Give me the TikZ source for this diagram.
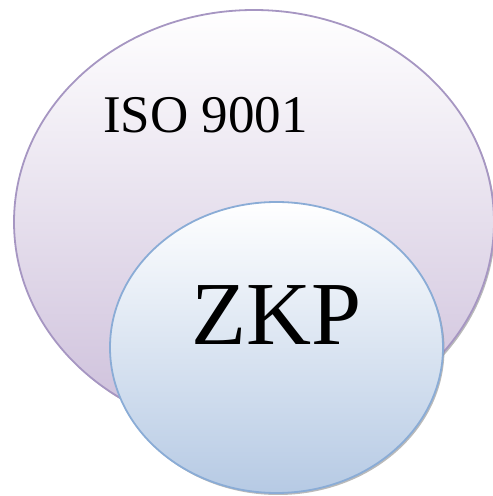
\documentclass[tikz,border=0pt]{standalone}
\usepackage{fontspec}
\setmainfont{Liberation Serif}
\usepackage{tikz}
\usetikzlibrary{shapes.geometric,shadows}
\definecolor{isoline}{RGB}{166,150,194}
\definecolor{isobottom}{RGB}{204,190,218}
\definecolor{zkpline}{RGB}{138,172,214}
\definecolor{zkpbottom}{RGB}{182,202,228}

\begin{document}
\begin{tikzpicture}[
  x=1pt, y=1pt,
  blob/.style={ellipse, inner sep=0pt, line width=1.8pt,
               drop shadow={shadow xshift=1.5pt, shadow yshift=-2pt, opacity=0.45, fill=black!60}},
  isoblob/.style={blob, draw=isoline, top color=white, bottom color=isobottom,
                  minimum width=480pt, minimum height=424pt},
  zkpblob/.style={blob, draw=zkpline, top color=white, bottom color=zkpbottom,
                  minimum width=333pt, minimum height=291pt},
  lbl/.style={inner sep=0pt, text=black}
]
\useasboundingbox (0,0) rectangle (493,496);

%% Outer set
\node[isoblob] (iso) at (254,274) {};
\node[lbl, anchor=base west, font=\fontsize{53}{56}\selectfont] (isotext) at (103,363) {ISO 9001};

%% Inner set
\node[zkpblob] (zkp) at (276.5,148.5) {};
\node[lbl, anchor=base, font=\fontsize{90}{94}\selectfont] (zkptext) at (277,151) {ZKP};

\end{tikzpicture}
\end{document}
